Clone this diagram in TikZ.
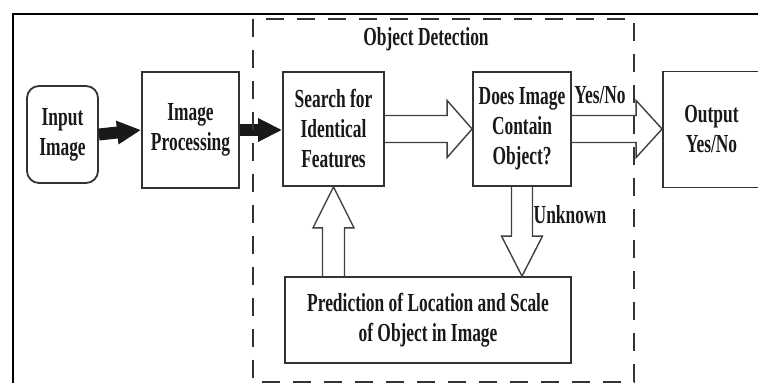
\documentclass[tikz,border=0pt]{standalone}
\usepackage{fontspec}
\setmainfont{Liberation Serif}[FakeStretch=0.67]
\usetikzlibrary{arrows.meta,calc}

\begin{document}
\begin{tikzpicture}[
    x=0.5pt, y=-0.5pt,
    every node/.append style = {align=center, text=black!90,
        font=\fontsize{13}{15}\selectfont\bfseries},
    blk box/.style = {draw=black!80, line width=0.9pt, minimum height=58pt, inner sep=1pt},
    solid arr/.style = {line width=6pt, black!90, -{Triangle[length=12pt, width=11pt]}},
    hollow arr/.style = {draw=black!75, line width=0.7pt, line join=miter},
    dash box/.style = {draw=black!80, line width=1pt, dash pattern=on 9pt off 6.5pt},
    frame line/.style = {draw=black, line width=0.6pt}
]
\useasboundingbox (0,0) rectangle (758,383);

% outer frame
\draw[frame line] (13,383) -- (13,14) -- (758,14);

% blocks
\node[blk box, rounded corners=6pt, minimum width=35.5pt, minimum height=48.5pt] (input) at (62.5,134.5) {Input\\Image};
\node[blk box, minimum width=48.5pt] (proc) at (190.5,130) {Image\\Processing};
\node[blk box, minimum width=50.5pt, minimum height=57pt] (search) at (333.5,129) {Search for\\Identical\\Features};
\node[blk box, minimum width=49pt, minimum height=57pt] (does) at (522,129) {Does Image\\Contain\\Object?};
\node[blk box, minimum width=48.5pt] (output) at (711.5,129.5) {Output\\Yes/No};
\node[blk box, minimum width=143pt, minimum height=43pt] (pred) at (428,320) {Prediction of Location and Scale\\of Object in Image};

% solid arrows
\draw[solid arr] (input.east) -- (proc.west);
\draw[solid arr] (proc.east) -- (proc.east -| search.west);

% hollow arrows, left to right
\draw[hollow arr] ($(search.east)+(0,-13.5)$) -- ($(does.west)+(-25,-13.5)$) -- ($(does.west)+(-25,-28.5)$)
    -- (does.west) -- ($(does.west)+(-25,28.5)$) -- ($(does.west)+(-25,13.5)$) -- ($(search.east)+(0,13.5)$);
\coordinate (outtip) at (does.east -| output.west);
\draw[hollow arr] ($(does.east)+(0,-13.5)$) -- ($(outtip)+(-26,-13.5)$) -- ($(outtip)+(-26,-28.5)$)
    -- (outtip) -- ($(outtip)+(-26,28.5)$) -- ($(outtip)+(-26,13.5)$) -- ($(does.east)+(0,13.5)$);

% feedback loop
\coordinate (upfoot) at (search.south |- pred.north);
\draw[hollow arr] ($(upfoot)+(-11,0)$) -- ($(search.south)+(-11,41)$) -- ($(search.south)+(-20.5,41)$)
    -- (search.south) -- ($(search.south)+(20.5,41)$) -- ($(search.south)+(11,41)$) -- ($(upfoot)+(11,0)$);
\coordinate (dntip) at (does.south |- pred.north);
\draw[hollow arr] ($(does.south)+(-10.5,0)$) -- ($(dntip)+(-10.5,-40)$) -- ($(dntip)+(-20.5,-40)$)
    -- (dntip) -- ($(dntip)+(20.5,-40)$) -- ($(dntip)+(10.5,-40)$) -- ($(does.south)+(10.5,0)$);

% labels
\node (yesno) at (600,95) {Yes/No};
\node (unk) at (570,215) {Unknown};

% detection stage
\draw[dash box] (253,19) rectangle (634,382);
\node (odtitle) at (426,39) {Object Detection};

\end{tikzpicture}
\end{document}
